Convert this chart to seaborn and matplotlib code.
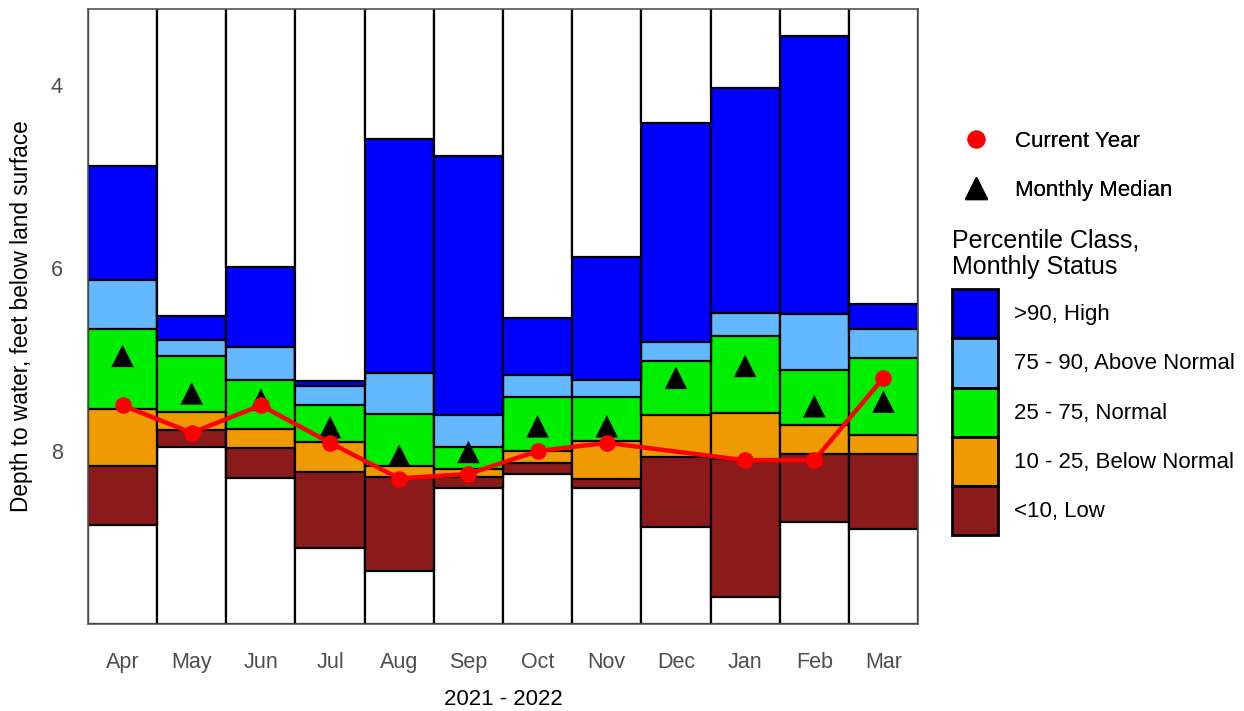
import numpy as np
import pandas as pd
import seaborn as sns
import matplotlib.pyplot as plt
from matplotlib.patches import Patch
from matplotlib.lines import Line2D

# Monthly data (depth to water, ft below land surface)
months = ['Apr', 'May', 'Jun', 'Jul', 'Aug', 'Sep', 'Oct', 'Nov', 'Dec', 'Jan', 'Feb', 'Mar']
# class boundaries
p90_top = [4.88, 6.52, 5.99, 7.23, 4.59, 4.77, 6.54, 5.88, 4.41, 4.03, 3.46, 6.39]
p90 = [6.13, 6.79, 6.86, 7.29, 7.15, 7.61, 7.17, 7.22, 6.81, 6.49, 6.50, 6.67]
p75 = [6.67, 6.96, 7.22, 7.50, 7.60, 7.95, 7.41, 7.41, 7.02, 6.74, 7.11, 6.98]
p25 = [7.54, 7.57, 7.76, 7.90, 8.16, 8.20, 8.00, 7.89, 7.61, 7.58, 7.72, 7.82]
p10 = [8.16, 7.77, 7.97, 8.23, 8.28, 8.28, 8.13, 8.30, 8.06, 8.09, 8.03, 8.03]
p_min = [8.81, 7.95, 8.29, 9.06, 9.31, 8.40, 8.25, 8.40, 8.83, 9.59, 8.77, 8.85]
median = [6.96, 7.37, 7.44, 7.74, 8.05, 8.01, 7.73, 7.73, 7.20, 7.07, 7.51, 7.46]
current = [7.50, 7.80, 7.50, 7.91, 8.30, 8.25, 8.00, 7.91, np.nan, 8.10, 8.10, 7.20]

y_top, y_bottom = 3.17, 9.89

class_labels = ['>90, High', '75 - 90, Above Normal', '25 - 75, Normal',
                '10 - 25, Below Normal', '<10, Low']
class_colors = ['#0000FF', '#63B8FF', '#00EE00', '#EE9A00', '#8B1A1A']

plt.rcParams['font.family'] = ['Liberation Sans', 'DejaVu Sans']

fig = plt.figure(figsize=(12.44, 7.11), dpi=100)
ax = fig.add_axes([0.0707, 0.1224, 0.6673, 0.8646])

# draw bars from 0 down to each boundary, deepest first so shallower ones overlay
layers = [
    ([y_bottom] * len(months), 'white'),
    (p_min, class_colors[4]),
    (p10, class_colors[3]),
    (p25, class_colors[2]),
    (p75, class_colors[1]),
    (p90, class_colors[0]),
    (p90_top, 'white'),
]
for vals, col in layers:
    df = pd.DataFrame({'month': months, 'depth': vals})
    sns.barplot(data=df, x='month', y='depth', color=col, saturation=1,
                width=1, edgecolor='black', linewidth=1.6, errorbar=None, ax=ax)

pos = np.arange(len(months))
med_df = pd.DataFrame({'x': pos, 'y': median})
sns.scatterplot(data=med_df, x='x', y='y', marker='^', s=260, color='black',
                edgecolor='none', ax=ax, zorder=5)

cur_df = pd.DataFrame({'x': pos, 'y': current}).dropna()
sns.lineplot(data=cur_df, x='x', y='y', color='#FF0000', linewidth=3.2,
             marker='o', markersize=12, markeredgewidth=0, ax=ax, zorder=6)

ax.set_xlim(-0.5, len(months) - 0.5)
ax.set_ylim(y_bottom, y_top)
ax.set_yticks([4, 6, 8])
ax.set_xticks(pos)
ax.set_xticklabels(months)
ax.tick_params(length=0, labelsize=15.5, labelcolor='#4D4D4D')
ax.tick_params(axis='x', pad=20)
ax.tick_params(axis='y', pad=18)
ax.set_xlabel('2021 - 2022', fontsize=16, labelpad=12)
ax.set_ylabel('Depth to water, feet below land surface', fontsize=16.3, labelpad=13)
for sp in ax.spines.values():
    sp.set_color('#555555')
    sp.set_linewidth(1.2)

# legends
marker_handles = [
    Line2D([], [], color='#FF0000', marker='o', linestyle='none', markersize=12),
    Line2D([], [], color='black', marker='^', linestyle='none', markersize=16),
]
leg1 = fig.legend(marker_handles, ['Current Year', 'Monthly Median'],
                  loc='upper left', bbox_to_anchor=(0.758, 0.832), frameon=False,
                  fontsize=16, handlelength=2.0, handletextpad=0.75,
                  labelspacing=1.27, borderpad=0)

fig.text(952 / 1244, 1 - 228 / 711, 'Percentile Class,\nMonthly Status',
         fontsize=18, ha='left', va='top', linespacing=1.15)

patch_handles = [Patch(facecolor=c, edgecolor='black', linewidth=2) for c in class_colors]
leg2 = fig.legend(patch_handles, class_labels, loc='upper left',
                  bbox_to_anchor=(941 / 1244, 1 - 278 / 711), frameon=False, fontsize=16,
                  handlelength=2.05, handleheight=3.03,
                  handletextpad=0.75, labelspacing=0.0, borderpad=0)
fig.add_artist(leg1)

fig.savefig('out.png', dpi=100)
